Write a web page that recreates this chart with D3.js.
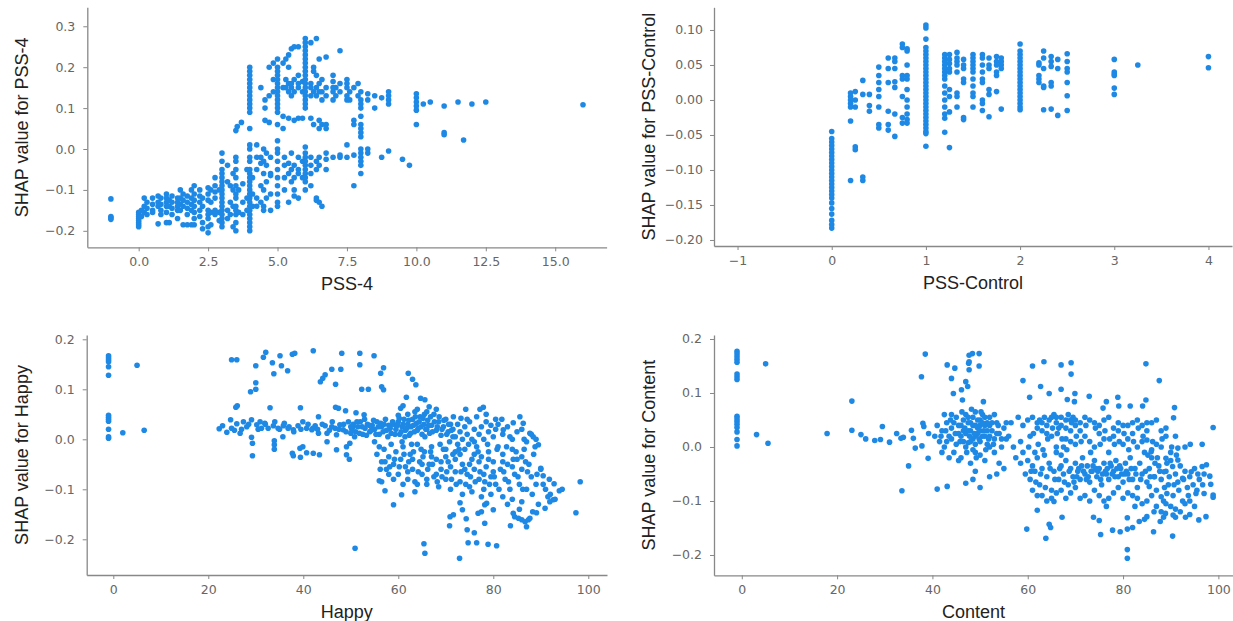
<!DOCTYPE html>
<html>
<head>
<meta charset="utf-8">
<script src="https://cdn.jsdelivr.net/npm/d3@7"></script>
<style>
  html, body { margin: 0; padding: 0; background: #fff; }
  svg { display: block; }
</style>
</head>
<body>
<svg id="chart" width="1233" height="621"></svg>
<script>
// ---------------- DATA ----------------
const pss4XTicks = [0, 2.5, 5, 7.5, 10, 12.5, 15];
const pss4YTicks = [-0.2, -0.1, 0, 0.1, 0.2, 0.3];
const pssControlXTicks = [-1, 0, 1, 2, 3, 4];
const pssControlYTicks = [-0.2, -0.15, -0.1, -0.05, 0, 0.05, 0.1];
const happyXTicks = [0, 20, 40, 60, 80, 100];
const happyYTicks = [-0.2, -0.1, 0, 0.1, 0.2];
const contentXTicks = [0, 20, 40, 60, 80, 100];
const contentYTicks = [-0.2, -0.1, 0, 0.1, 0.2];

const pss4Points = [
[-1,-0.122],[-1,-0.165],[-1,-0.168],[-1,-0.172],
[0,-0.155],[0,-0.16],[0,-0.165],[0,-0.17],[0,-0.175],[0,-0.18],[0,-0.185],[0,-0.19],
[0.1,-0.15],[0.1,-0.165],[0.2,-0.12],[0.2,-0.14],[0.2,-0.155],[0.3,-0.13],[0.3,-0.145],[0.3,-0.16],
[0.5,-0.12],[0.5,-0.135],[0.5,-0.15],[0.5,-0.155],[0.7,-0.115],[0.7,-0.13],[0.7,-0.14],[0.7,-0.183],
[0.8,-0.12],[0.8,-0.135],[0.8,-0.15],[0.8,-0.16],
[1,-0.11],[1,-0.12],[1,-0.13],[1,-0.14],[1,-0.155],[1,-0.18],
[1.1,-0.125],[1.1,-0.14],[1.1,-0.18],[1.2,-0.115],[1.2,-0.13],[1.2,-0.145],[1.2,-0.16],
[1.4,-0.12],[1.4,-0.13],[1.4,-0.14],[1.4,-0.15],[1.4,-0.17],
[1.5,-0.1],[1.5,-0.12],[1.5,-0.135],[1.5,-0.15],
[1.6,-0.11],[1.6,-0.125],[1.6,-0.14],[1.6,-0.185],
[1.75,-0.115],[1.75,-0.13],[1.75,-0.145],[1.75,-0.16],[1.75,-0.185],
[1.9,-0.1],[1.9,-0.12],[1.9,-0.135],[1.9,-0.15],[1.9,-0.185],
[2,-0.09],[2,-0.11],[2,-0.125],[2,-0.14],[2,-0.155],[2,-0.17],[2,-0.185],
[2.2,-0.1],[2.2,-0.115],[2.2,-0.13],[2.2,-0.15],[2.2,-0.165],
[2.3,-0.12],[2.3,-0.14],[2.3,-0.18],[2.3,-0.195],
[2.5,-0.095],[2.5,-0.11],[2.5,-0.125],[2.5,-0.15],[2.5,-0.16],[2.5,-0.17],[2.5,-0.19],[2.5,-0.205],
[2.6,-0.1],[2.6,-0.13],[2.6,-0.155],[2.6,-0.185],
[2.75,-0.07],[2.75,-0.09],[2.75,-0.105],[2.75,-0.12],[2.75,-0.15],[2.75,-0.16],
[2.9,-0.1],[2.9,-0.155],[2.9,-0.175],
[3,-0.01],[3,-0.03],[3,-0.05],[3,-0.06],[3,-0.07],[3,-0.08],[3,-0.09],[3,-0.1],[3,-0.11],[3,-0.12],[3,-0.13],[3,-0.14],[3,-0.15],[3,-0.16],[3,-0.17],[3,-0.18],[3,-0.19],
[3.2,-0.04],[3.2,-0.08],[3.2,-0.15],[3.2,-0.17],[3.3,-0.09],[3.3,-0.13],[3.3,-0.16],
[3.4,-0.06],[3.4,-0.1],[3.4,-0.14],[3.4,-0.19],
[3.5,-0.02],[3.5,-0.03],[3.5,-0.05],[3.5,-0.07],[3.5,-0.09],[3.5,-0.11],[3.5,-0.12],[3.5,-0.14],[3.5,-0.15],[3.5,-0.16],[3.5,-0.18],[3.5,-0.2],
[3.6,-0.1],[3.6,-0.155],[3.75,-0.085],[3.75,-0.13],[3.75,-0.16],[3.9,-0.05],[3.9,-0.12],[3.9,-0.15],
[4,0.01],[4,0],[4,-0.02],[4,-0.03],[4,-0.05],[4,-0.06],[4,-0.07],[4,-0.08],[4,-0.09],[4,-0.1],[4,-0.11],[4,-0.12],[4,-0.13],[4,-0.14],[4,-0.15],[4,-0.16],[4,-0.17],[4,-0.18],[4,-0.19],[4,-0.2],
[4.1,-0.07],[4.1,-0.11],[4.1,-0.14],
[4.25,0.01],[4.25,-0.02],[4.25,-0.05],[4.25,-0.12],[4.25,-0.14],
[4.4,-0.02],[4.4,-0.035],[4.4,-0.09],[4.4,-0.13],
[4.5,0],[4.5,-0.03],[4.5,-0.06],[4.5,-0.1],[4.5,-0.14],[4.5,-0.15],
[4.6,-0.01],[4.6,-0.04],[4.6,-0.08],[4.6,-0.12],
[4.75,-0.02],[4.75,-0.06],[4.75,-0.065],[4.75,-0.11],[4.75,-0.15],
[5,0],[5,-0.01],[5,-0.03],[5,-0.05],[5,-0.07],[5,-0.09],[5,-0.11],[5,-0.13],[5,-0.14],
[5.25,-0.02],[5.25,-0.04],[5.25,-0.07],[5.25,-0.1],
[5.4,-0.035],[5.4,-0.06],[5.4,-0.13],
[5.5,-0.01],[5.5,-0.05],[5.5,-0.08],
[5.6,-0.04],[5.6,-0.07],[5.6,-0.1],[5.6,-0.115],
[5.75,-0.02],[5.75,-0.05],[5.75,-0.06],[5.75,-0.12],
[5.9,-0.03],[5.9,-0.07],
[6,0.005],[6,-0.01],[6,-0.02],[6,-0.03],[6,-0.04],[6,-0.05],[6,-0.06],[6,-0.07],[6,-0.08],[6,-0.1],
[6.2,-0.02],[6.2,-0.04],[6.2,-0.06],[6.2,-0.09],
[6.4,-0.03],[6.4,-0.05],[6.4,-0.12],[6.4,-0.125],
[6.5,-0.02],[6.5,-0.04],[6.5,-0.13],[6.6,-0.14],
[6.75,-0.01],[6.75,-0.025],[6.75,-0.05],
[7,-0.02],[7.25,-0.015],[7.25,-0.02],[7.5,0.01],[7.5,-0.02],[7.75,-0.015],[7.75,-0.09],
[8,0],[8,-0.01],[8,-0.02],[8,-0.03],[8,-0.04],[8,-0.06],
[8.25,-0.01],[8.25,0],[8.75,-0.02],[9,-0.005],[9.5,-0.025],[9.75,-0.04],
[3.5,0.045],[3.55,0.055],[3.7,0.065],
[4,0.05],[4,0.09],[4,0.1],[4,0.11],[4,0.12],[4,0.13],[4,0.14],[4,0.15],[4,0.16],[4,0.17],[4,0.18],[4,0.19],[4,0.2],
[4.4,0.15],[4.55,0.07],[4.55,0.1],[4.55,0.12],[4.7,0.2],[4.7,0.13],[4.7,0.065],[4.85,0.21],[4.85,0.17],[4.85,0.14],
[5,0.02],[5,0.06],[5,0.09],[5,0.1],[5,0.11],[5,0.12],[5,0.13],[5,0.14],[5,0.15],[5,0.16],[5,0.17],[5,0.18],[5,0.19],[5,0.2],[5,0.22],
[5.2,0.21],[5.2,0.15],[5.2,0.08],[5.2,0.05],[5.3,0.15],[5.3,0.17],[5.3,0.22],
[5.4,0.14],[5.4,0.16],[5.4,0.2],[5.4,0.23],[5.4,0.075],[5.5,0.15],[5.5,0.16],[5.5,0.245],[5.5,0.13],
[5.6,0.14],[5.6,0.17],[5.6,0.25],[5.6,0.07],[5.75,0.15],[5.75,0.16],[5.75,0.18],[5.75,0.25],[5.75,0.075],
[5.9,0.14],[5.9,0.165],[5.9,0.075],
[6,0.1],[6,0.11],[6,0.12],[6,0.13],[6,0.14],[6,0.15],[6,0.16],[6,0.17],[6,0.18],[6,0.19],[6,0.2],[6,0.21],[6,0.22],[6,0.23],[6,0.24],[6,0.25],[6,0.26],[6,0.27],
[6.2,0.13],[6.2,0.15],[6.2,0.16],[6.2,0.075],[6.2,0.26],[6.3,0.14],[6.3,0.2],[6.3,0.19],[6.3,0.06],
[6.4,0.13],[6.4,0.15],[6.4,0.18],[6.4,0.27],[6.5,0.14],[6.5,0.16],[6.5,0.22],[6.5,0.07],[6.5,0.05],
[6.6,0.12],[6.6,0.14],[6.6,0.17],[6.6,0.06],[6.75,0.13],[6.75,0.15],[6.75,0.225],[6.75,0.06],[6.75,0.05],
[7,0.14],[7,0.15],[7,0.165],[7,0.18],[7,0.12],[7.1,0.13],[7.1,0.15],[7.25,0.24],[7.25,0.14],[7.25,0.16],
[7.5,0.12],[7.5,0.15],[7.5,0.16],[7.5,0.17],[7.5,0.13],[7.6,0.14],[7.6,0.12],[7.75,0.15],[7.75,0.07],[7.75,0.06],
[7.9,0.16],[7.9,0.13],
[8,0.14],[8,0.12],[8,0.11],[8,0.1],[8,0.08],[8,0.06],[8,0.05],[8,0.04],[8,0.03],
[8.25,0.135],[8.25,0.12],[8.5,0.13],[8.5,0.1],[8.75,0.125],
[9,0.14],[9,0.13],[9,0.12],[9,0.11],
[10,0.135],[10,0.125],[10,0.115],[10,0.105],[10,0.095],[10,0.06],
[10.25,0.11],[10.5,0.115],[11,0.105],[11,0.04],[11,0.035],[11.5,0.115],[11.7,0.022],[12,0.11],[12.5,0.115],[16,0.108]
];

const pssControlPoints = [
[0,-0.045],[0,-0.055],[0,-0.06],[0,-0.065],[0,-0.07],[0,-0.075],[0,-0.08],[0,-0.085],[0,-0.09],[0,-0.095],[0,-0.1],[0,-0.105],[0,-0.11],[0,-0.115],[0,-0.12],[0,-0.125],[0,-0.13],[0,-0.135],[0,-0.14],[0,-0.147],[0,-0.155],[0,-0.163],[0,-0.172],[0,-0.178],[0,-0.183],
[0.2,0.01],[0.2,0.005],[0.2,0],[0.2,-0.005],[0.2,-0.01],[0.2,-0.03],[0.2,-0.115],
[0.25,0.012],[0.25,0],[0.25,-0.01],[0.25,-0.067],[0.25,-0.071],
[0.33,0.028],[0.33,0.008],[0.33,-0.11],[0.33,-0.115],
[0.4,0.008],[0.4,-0.008],[0.4,-0.016],
[0.5,0.047],[0.5,0.035],[0.5,0.025],[0.5,0.015],[0.5,0.005],[0.5,-0.01],[0.5,-0.035],[0.5,-0.04],
[0.6,0.06],[0.6,0.045],[0.6,0.025],[0.6,-0.016],[0.6,-0.035],[0.6,-0.043],
[0.67,0.06],[0.67,0.055],[0.67,0.045],[0.67,0.026],[0.67,0.018],[0.67,-0.02],[0.67,-0.052],
[0.75,0.08],[0.75,0.075],[0.75,0.035],[0.75,0.03],[0.75,0.005],[0.75,-0.025],[0.75,-0.033],
[0.8,0.073],[0.8,0.07],[0.8,0.05],[0.8,0.035],[0.8,0.03],[0.8,0.015],[0.8,0],[0.8,-0.01],[0.8,-0.02],[0.8,-0.028],[0.8,-0.033],
[1,0.107],[1,0.103],[1,0.087],[1,0.075],[1,0.07],[1,0.065],[1,0.06],[1,0.055],[1,0.05],[1,0.045],[1,0.04],[1,0.035],[1,0.03],[1,0.025],[1,0.02],[1,0.015],[1,0.01],[1,0.005],[1,0],[1,-0.005],[1,-0.01],[1,-0.015],[1,-0.02],[1,-0.025],[1,-0.03],[1,-0.035],[1,-0.04],[1,-0.045],[1,-0.048],[1,-0.066],
[1.2,0.065],[1.2,0.06],[1.2,0.055],[1.2,0.05],[1.2,0.045],[1.2,0.04],[1.2,0.035],[1.2,0.03],[1.2,0.02],[1.2,0.01],[1.2,0],[1.2,-0.01],[1.2,-0.02],[1.2,-0.026],[1.2,-0.046],
[1.25,0.065],[1.25,0.058],[1.25,0.052],[1.25,0.045],[1.25,0.04],[1.25,0.015],[1.25,0.005],[1.25,-0.017],[1.25,-0.068],
[1.33,0.068],[1.33,0.06],[1.33,0.055],[1.33,0.05],[1.33,0.04],[1.33,0.01],[1.33,0.005],[1.33,-0.01],
[1.4,0.058],[1.4,0.05],[1.4,0.045],[1.4,0.03],[1.4,0.025],[1.4,-0.025],[1.4,-0.028],
[1.5,0.065],[1.5,0.06],[1.5,0.055],[1.5,0.05],[1.5,0.045],[1.5,0.04],[1.5,0.03],[1.5,0.02],[1.5,0.01],[1.5,0.005],[1.5,-0.01],
[1.6,0.065],[1.6,0.06],[1.6,0.05],[1.6,0.04],[1.6,0.03],[1.6,0.025],[1.6,0],[1.6,-0.005],[1.6,-0.015],
[1.67,0.06],[1.67,0.05],[1.67,0.045],[1.67,0.015],[1.67,0.008],[1.67,-0.024],
[1.75,0.062],[1.75,0.055],[1.75,0.05],[1.75,0.04],[1.75,0.035],[1.75,0.012],
[1.8,0.06],[1.8,0.055],[1.8,0.05],[1.8,0.045],[1.8,-0.013],
[2,0.08],[2,0.07],[2,0.065],[2,0.06],[2,0.055],[2,0.05],[2,0.045],[2,0.04],[2,0.035],[2,0.03],[2,0.025],[2,0.02],[2,0.015],[2,0.01],[2,0.005],[2,0],[2,-0.005],[2,-0.01],[2,-0.014],
[2.2,0.053],[2.2,0.05],[2.2,0.035],[2.2,0.03],[2.2,0.025],[2.25,-0.014],
[2.25,0.07],[2.25,0.06],[2.25,0.045],[2.25,0.02],[2.25,0.018],
[2.33,0.062],[2.33,0.055],[2.33,0.048],[2.33,0.025],[2.33,0.02],[2.33,-0.013],
[2.4,0.058],[2.4,0.045],[2.4,-0.022],
[2.5,0.066],[2.5,0.055],[2.5,0.045],[2.5,0.04],[2.5,0.025],[2.5,0.006],[2.5,-0.015],
[3,0.058],[3,0.04],[3,0.037],[3,0.035],[3,0.017],[3,0.008],
[3.25,0.05],[4,0.062],[4,0.046]
];

const happyPoints = [
[-1,0.167],[-1,0.163],[-1,0.159],[-1,0.155],[-1,0.145],[-1,0.128],[-1,0.048],[-1,0.044],[-1,0.04],[-1,0.036],[-1,0.02],[-1,0.005],[-1,0.002],
[2,0.013],[5,0.148],[6.5,0.018],
[24.9,0.159],[26,0.159],[25.8,0.064],[26.1,0.067],[28.9,0.095],[30,0.1],[30,0.113],[30,0.147],[31.6,0.164],[32.1,0.174],[33,0.063],[33.5,0.153],[33.8,0.131],[35.1,0.167],[35.4,0.147],[36.7,0.137],[37.7,0.17],[38.2,0.172],[39.4,0.063],[42.1,0.177],[43.2,0.045],[43.6,0.115],[44.1,0.122],[44.6,0.129],[46,0.14],[46.8,0.11],[46.8,0.064],[47.4,0.062],[47.9,0.14],[48.1,0.172],[48.9,0.057],
[51.9,0.172],[54.9,0.167],[51.9,0.149],[52.3,0.1],[53.7,0.1],[56.3,0.132],[56.9,0.143],[56.5,0.105],[56.9,0.099],[62.1,0.132],[63,0.12],[63.7,0.109],[61.7,0.084],[64.7,0.082],[65.6,0.079],[61,0.067],[51.1,0.053],[52.8,0.049],[60.5,0.062],
[29.1,0.004],[29.3,-0.008],[29.3,-0.033],[33.9,-0.003],[33.9,-0.011],[33.9,-0.02],[35.7,0.005],[37.7,-0.028],[37.9,-0.033],[39.3,-0.018],[39.4,-0.036],[39.9,-0.015],[40.7,-0.027],[42.1,-0.028],[43.4,-0.031],[45,-0.005],[47,-0.021],[49.1,-0.015],[49.1,-0.031],[49.7,-0.04],[49.8,-0.008],
[22.3,0.021],[23,0.027],[23.9,0.014],[24.7,0.039],[24.9,0.022],[26,0.031],[26.7,0.012],[27.4,0.035],[28.1,0.025],[29.1,0.039],[30.2,0.029],[30.9,0.035],[31.2,0.022],[31.9,0.032],[32.6,0.022],[33.7,0.027],[34.7,0.022],[35.8,0.027],[36.8,0.022],[37.9,0.019],[38.9,0.027],[39.9,0.035],[40.7,0.022],[41.8,0.019],[42.5,0.027],[43.2,0.012],[44.6,0.027],[45,0.012],[46.1,0.035],[46.7,0.022],[47,0.009],[47.7,0.029],[48.4,0.019],[49.5,0.035],[50,0.012],[50.5,0.025],
[25.5,0.018],[27,0.02],[28.5,0.03],[30.5,0.02],[32,0.03],[34,0.035],[35,0.02],[36,0.032],[37,0.025],[38,0.015],[39.5,0.02],[41,0.03],[42,0.022],[43,0.02],[44,0.03],[45.5,0.018],[46,0.025],[47.5,0.02],[48.5,0.03],[49,0.015],[50,0.025],
[50.5,0.03],[51,0.015],[51.5,0.025],[52,0.035],[52.5,0.01],[53,0.022],[53.5,0.03],[54,0.015],[54.5,0.028],[55,0.02],[55.5,0.035],[56,0.01],[56.5,0.025],[57,0.03],[57.5,0.018],[58,0.028],[58.5,0.012],[59,0.03],[59.5,0.02],[60,0.035],[60.3,0.01],[60.8,0.025],[61.2,0.04],[61.5,0.018],[62,0.03],[62.3,0.008],[62.7,0.025],[63,0.04],[63.4,0.015],[63.8,0.032],[64.2,0.022],[64.6,0.045],[65,0.01],[65.4,0.03],[65.8,0.02],[66.2,0.038],[66.6,0.012],[67,0.028],[67.5,0.05],[68,0.018],[68.5,0.035],[69,0.008],[69.5,0.025],[70,0.04],[70.5,0.015],[71,0.03],[66,0.055],[64,0.06],[62,0.05],[60,0.048],
[50.2,0.02],[50.8,0.005],[51.3,0.035],[51.8,0.012],[52.4,0.025],[52.9,0.04],[53.3,0.008],[53.9,0.028],[54.3,0.018],[54.8,0.038],[55.3,0.01],[55.8,0.025],[56.3,0.032],[56.8,0.015],[57.3,0.04],[57.8,0.005],[58.3,0.022],[58.8,0.035],[59.3,0.01],[59.8,0.028],[60.2,0.042],[60.6,0.015],[61,0.03],[61.4,0.005],[61.8,0.022],[62.2,0.038],[62.6,0.012],[63.2,0.028],[63.6,0.045],[64,0.018],[64.4,0.035],[64.8,0.025],[65.2,0.042],[65.6,0.005],[66,0.02],[66.4,0.028],[66.8,0.045],[67.2,0.015],[67.6,0.035],[68.2,0.025],[68.6,0.045],[69.2,0.02],[69.6,0.038],[70.2,0.01],[70.6,0.03],[71.2,0.018],[66.5,0.065],[68,0.06],[65.5,0.05],[63.5,0.055],
[55,-0.005],[55.5,-0.03],[56,-0.015],[56.5,-0.045],[57,-0.02],[57.5,-0.06],[58,-0.035],[58.5,-0.01],[59,-0.05],[59.5,-0.025],[60,-0.07],[60.5,-0.04],[61,-0.015],[61.5,-0.055],[62,-0.08],[62.5,-0.03],[63,-0.06],[63.5,-0.085],[64,-0.01],[64.5,-0.045],[65,-0.07],[65.5,-0.025],[66,-0.09],[66.5,-0.05],[67,-0.015],[67.5,-0.075],[68,-0.04],[68.5,-0.095],[69,-0.06],[69.5,-0.02],[70,-0.08],[70.5,-0.045],[71,-0.1],[71.5,-0.03],[72,-0.065],[72.5,-0.01],[73,-0.085],[73.5,-0.05],[74,-0.02],[74.5,-0.07],[75,-0.095],[75.5,-0.04],[76,-0.06],[76.5,-0.015],[77,-0.08],[77.5,-0.035],[78,-0.1],[78.5,-0.055],[79,-0.025],[79.5,-0.075],[80,-0.045],[80.5,-0.09],[81,-0.015],[81.5,-0.06],[82,-0.03],[82.5,-0.08],[83,-0.05],[83.5,-0.1],[84,-0.02],[84.5,-0.07],[85,-0.04],[85.5,-0.09],[86,-0.06],[86.5,-0.02],[87,-0.1],[87.5,-0.05],[88,-0.075],[88.5,-0.03],[89,-0.09],[90,-0.06],[91,-0.1],[92,-0.11],
[63,-0.04],[65,-0.05],[67,-0.035],[69,-0.045],[71,-0.055],[73,-0.03],[75,-0.05],[77,-0.045],[79,-0.04],[64,-0.09],[66,-0.08],[68,-0.07],[70,-0.02],[72,-0.04],[74,-0.06],[76,-0.03],[78,-0.07],[80,-0.065],[82,-0.045],[84,-0.055],[86,-0.035],[61,-0.09],[59,-0.08],[62,-0.065],[58,-0.07],
[56.2,-0.06],[57.2,-0.045],[58.2,-0.055],[59.2,-0.04],[60.2,-0.055],[61.2,-0.03],[62.2,-0.045],[63.2,-0.025],[64.2,-0.065],[65.2,-0.035],[66.2,-0.06],[67.2,-0.05],[68.2,-0.085],[69.2,-0.075],[70.2,-0.065],[71.2,-0.08],[72.2,-0.09],[73.2,-0.065],[74.2,-0.09],[75.2,-0.075],[76.2,-0.085],[77.2,-0.065],[78.2,-0.085],[79.2,-0.09],[80.2,-0.075],[81.2,-0.1],[82.2,-0.065],[83.2,-0.085],[84.2,-0.04],[85.2,-0.075],[86.2,-0.1],[87.2,-0.065],[88.2,-0.11],[89.2,-0.07],
[60.8,-0.005],[62.8,-0.01],[64.8,-0.02],[66.8,-0.025],[68.8,-0.01],[70.8,-0.005],[72.8,-0.02],[74.8,-0.01],[76.8,-0.025],[78.8,-0.01],[80.8,-0.02],[82.8,-0.015],[84.8,-0.025],[86.8,-0.045],[88.8,-0.015],
[73.5,-0.11],[75.5,-0.105],[77.5,-0.115],[79.5,-0.11],[82,-0.115],[84,-0.12],[86,-0.125],[90.5,-0.09],[91.5,-0.115],[93,-0.12],[94.5,-0.1],[85.5,-0.14],[89.5,-0.13],[83,-0.13],
[71.5,0.005],[74.5,0.04],[78.5,0.05],[80.5,0.04],[83.5,0.005],[86.5,0],[76,-0.005],[72,-0.025],[70,-0.035],
[71.5,0.02],[72,0.005],[72.5,0.03],[73,0.015],[73.5,0],[74,0.025],[74.5,0.01],[75,0.035],[75.5,0],[76,0.02],[76.5,0.045],[77,0.01],[77.5,0.025],[78,0],[78.5,0.035],[79,0.015],[79.5,0.028],[80,0.005],[80.5,0.02],[81,0.03],[82,0.01],[83,0.025],[84,0],[85,0.015],[86,0.02],[87,-0.005],[88,0.01],[89,0],
[50.9,-0.218],[65.4,-0.209],[65.6,-0.228],[72.9,-0.238],[74.7,-0.207],[76.5,-0.207],[78.9,-0.21],[80.7,-0.213],[70.8,-0.173],[70.9,-0.155],[71.6,-0.151],[73,-0.127],[73.5,-0.141],[74.3,-0.159],[74.5,-0.181],[76,-0.187],[76.8,-0.148],[77.5,-0.145],[78.2,-0.131],[78.2,-0.168],[78.6,-0.128],[80,-0.141],[83.6,-0.173],[84.2,-0.148],[84.5,-0.155],[85.3,-0.158],[86,-0.161],[86.7,-0.165],[87,-0.175],[87.4,-0.161],[87.7,-0.158],[88.3,-0.145],[89.1,-0.147],[90.9,-0.138],[91.9,-0.125],[92.6,-0.121],[93.9,-0.103],[92.8,-0.089],[91.8,-0.08],[90.5,-0.073],[90,-0.058],[89.5,-0.011],[88.4,0.005],[87.7,0.012],[86.3,0.032],[85.6,0.045],[84.2,0.033],[81.8,0.04],[82.1,0.019],[77.9,0.064],[77.2,0.06],[74.2,0.06],[73.2,0.042],[71.6,0.045],[98.3,-0.085],[97.4,-0.147],[59,-0.131],[60.7,-0.111],[63.5,-0.105],[57.2,-0.103],[56.5,-0.085],[56,-0.083]
];

const contentPoints = [
[-1,0.177],[-1,0.172],[-1,0.167],[-1,0.162],[-1,0.157],[-1,0.135],[-1,0.13],[-1,0.125],[-1,0.057],[-1,0.052],[-1,0.047],[-1,0.042],[-1,0.036],[-1,0.028],[-1,0.014],[-1,0.002],[5,0.154],[3.1,0.023],[5.5,0.007],
[17.9,0.025],[23.1,0.085],[23.1,0.031],[25,0.023],[26,0.015],[27.9,0.012],[29.1,0.014],[29.5,0.038],[31,0.009],[32.5,0.025],[33.4,0.016],[33.9,0.018],[33.6,-0.081],[35,-0.035],[35.6,0.031],[36,0.016],[36.4,-0.002],[37.7,0.13],[38.5,0.172],[38,0.044],[38.2,0.038],[37.8,0.002],[39.1,-0.021],[39.2,0.025],[41,-0.078],[43.1,0.152],[43.1,-0.073],[44.7,0.146],[44,0.127],[44.4,0.099],[46.1,0.106],[46.3,0.087],[47,-0.067],[47.6,0.155],[47.7,0.17],[47,0.121],[42.5,0.06],
[48.4,0.173],[49.8,0.173],[49.8,0.15],[47.7,0.158],[47.7,0.143],[47.4,0.112],[50.7,0.084],
[40.5,0.02],[41,0.04],[41.5,0.01],[42,0.03],[42.5,0],[43,0.045],[43.5,0.02],[44,0.035],[44.5,-0.01],[45,0.055],[45.5,0.025],[46,0.04],[46.5,0.01],[47,0.06],[47.5,0.03],[48,0.045],[48.5,0.015],[49,0.065],[49.5,0.035],[50,0.05],[50.5,0.02],[51,0.04],[51.5,0.005],[52,0.055],[52.5,0.03],[53,0.015],[53.5,0.045],[54,0.025],[54.5,0],[55,0.035],[55.5,0.015],[45,0.005],[46,-0.02],[47,0],[48,-0.03],[49,0.005],[50,-0.015],[51,-0.025],[52,0],[53,-0.01],[54,-0.03],[46.5,0.05],[47.5,0.045],[48.5,0.055],[49.5,0.025],[50.5,0.06],[48,0.03],[49,0.04],[50,0.03],[51,0.02],[44,0.015],[43,0.01],[52,0.04],[53,0.06],[46,0.02],[47,0.025],[48,0.01],[49,0.02],[50,0.01],[51,0.055],[52,0.02],[49,-0.01],[50,0.04],[51.5,0.045],[48.5,-0.005],[47.5,0.008],[53.5,-0.05],[52,-0.055],[49,-0.045],[50,-0.075],[48.5,-0.06],[55,-0.04],[56,0.02],[56.5,0.045],[57,0],[57.5,-0.02],[58,0.055],[58.5,0.01],
[44.5,0.045],[45.5,0.04],[46.5,0.03],[47.5,0.055],[48.5,0.04],[49.5,0.05],[50.5,0.045],[51.5,0.03],[52.5,0.045],[53.5,0.025],[45.8,0.01],[46.8,0.035],[47.8,0.02],[48.8,0.025],[49.8,0.015],[50.8,0.03],[51.8,0.015],[52.8,0.005],[53.8,0.04],[44.8,0.025],[43.8,0.05],[42.8,0.03],[41.8,0.02],[46.2,0.065],[48.2,0.07],[50.2,0.065],[47.2,-0.01],[49.2,-0.02],[51.2,-0.005],[45.5,-0.025],[54.5,0.015],[55.5,0.045],[42,-0.01],[43.5,-0.02],[44,0.06],
[59,0.04],[60,0.05],[60.5,0.02],[61,0.055],[61.5,-0.01],[62,0.045],[62.5,0.05],[63,0.03],[63.5,0.055],[64,0.04],[64.5,0.05],[65,0.02],[65.5,0.06],[66,0.045],[66.5,0.035],[67,0.055],[67.5,0],[68,0.05],[68.5,0.06],[69,0.03],[69.5,0.055],[70,0.04],
[58.5,-0.03],[59,-0.01],[59.5,-0.05],[60,-0.025],[60.5,-0.06],[61,-0.035],[61.5,-0.045],[62,-0.02],[62.5,-0.07],[63,-0.04],[63.5,-0.015],[64,-0.055],[64.5,-0.03],[65,-0.08],[65.5,-0.045],[66,-0.01],[66.5,-0.06],[67,-0.035],[67.5,-0.05],[68,-0.025],[68.5,-0.07],[69,-0.04],[69.5,-0.055],[70,-0.03],[70.5,-0.045],[71,-0.06],[71.5,-0.02],[72,-0.05],[72.5,-0.035],[73,-0.065],[73.5,-0.045],[74,-0.025],[74.5,-0.055],[75,-0.04],[75.5,-0.07],[76,-0.03],[76.5,-0.05],[77,-0.06],[77.5,-0.035],[78,-0.045],[78.5,-0.025],[79,-0.055],[79.5,-0.04],[80,-0.065],[80.5,-0.03],[81,-0.05],[81.5,-0.02],[82,-0.06],[82.5,-0.04],[83,-0.075],[83.5,-0.03],[84,-0.05],[84.5,-0.01],[85,-0.065],[85.5,-0.04],[86,-0.02],[86.5,-0.055],[87,-0.08],[87.5,-0.035],[88,-0.06],[88.5,-0.1],[89,-0.045],[89.5,-0.07],[90,-0.025],[90.5,-0.09],[91,-0.05],[91.5,-0.065],[92,-0.035],[92.5,-0.1],[93,-0.045],[93.5,-0.075],[94,-0.055],[95,-0.04],[95.5,-0.08],[96,-0.06],[97,-0.05],
[60.2,0],[61.2,0.025],[62.2,0.005],[63.2,-0.005],[64.2,0.015],[65.2,0.035],[66.2,0.025],[67.2,0.015],[68.2,-0.005],[69.2,0.045],[70.2,0.02],[71.2,0.01],[72.2,0.04],[73.2,-0.01],[74.2,0.035],[75.2,0.005],[76.2,0.03],[77.2,0.015],[78.2,0.005],[79.2,0.01],[80.2,0.025],[81.2,-0.005],[82.2,0.01],[83.2,0.035],[84.2,0.02],[85.2,-0.015],[86.2,0.01],[87.2,-0.02],[88.2,0.015],[89.2,-0.03],[90.2,0],[91.2,-0.015],
[60.7,-0.045],[61.7,-0.065],[62.7,-0.05],[63.7,-0.075],[64.7,-0.04],[65.7,-0.06],[66.7,-0.04],[67.7,-0.065],[68.7,-0.045],[69.7,-0.065],[70.7,-0.04],[71.7,-0.045],[72.7,-0.055],[73.7,-0.035],[74.7,-0.045],[75.7,-0.05],[76.7,-0.04],[77.7,-0.05],[78.7,-0.04],[79.7,-0.05],[80.7,-0.045],[81.7,-0.04],[82.7,-0.05],[83.7,-0.06],[84.7,-0.045],[85.7,-0.055],[86.7,-0.03],[87.7,-0.045],[88.7,-0.075],[89.7,-0.055],[90.7,-0.07],[91.7,-0.08],[92.7,-0.06],[93.7,-0.09],[94.7,-0.07],[95.7,-0.05],[96.7,-0.07],
[70.3,-0.055],[71.3,-0.035],[72.3,-0.06],[73.3,-0.045],[74.3,-0.04],[75.3,-0.06],[76.3,-0.045],[77.3,-0.03],[78.3,-0.055],[79.3,-0.035],[80.3,-0.05],[81.3,-0.06],
[63,0.045],[65,0.055],[67,0.04],[69,0.05],[62,0.035],[64,0.025],[66,0.055],[68,0.035],[70,0.05],[72,0.055],[74,0.045],[76,0.05],[78,0.035],[80,0.04],[82,0.045],[84,0.04],[86,0.045],[88,0.03],
[66,0],[68,0.015],[70,0.005],[72,0.02],[74,0],[76,0.015],[78,0.02],[80,0.005],[82,0.025],[84,0.01],[86,-0.005],[88,0],[90,-0.01],[67,-0.015],[69,0.01],[71,0.03],[73,0.01],[75,0.025],[77,-0.01],[79,0.03],[81,0.015],[83,0],[85,0.03],[87,0.005],[89,0.02],[71,0.045],[73,0.05],[75,0.04],[77,0.055],[79,0.045],[81,0.04],[83,0.05],[85,0.045],[87,0.05],[89,0.035],[91,0.02],[93,0],
[62,-0.09],[64,-0.1],[66,-0.085],[68,-0.095],[70,-0.075],[72,-0.09],[74,-0.08],[76,-0.1],[78,-0.085],[80,-0.095],[82,-0.09],[84,-0.105],[86,-0.09],[88,-0.12],[90,-0.11],[92,-0.12],[94,-0.1],
[61,-0.08],[63,-0.09],[65,-0.095],[67,-0.08],[69,-0.085],[71,-0.095],[73,-0.1],[75,-0.09],[77,-0.095],[79,-0.075],[81,-0.085],[83,-0.095],[85,-0.1],[87,-0.11],[89,-0.105],[91,-0.115],[93,-0.105],[95,-0.11],[76.5,-0.11],[82.5,-0.11],[86.5,-0.12],[88.5,-0.13],[91,-0.13],[94,-0.125],
[61,0.15],[63.4,0.158],[67,0.152],[69.1,0.156],[69.1,0.135],[59,0.123],[60.4,0.092],[62.7,0.112],[64.5,0.099],[67,0.107],[68.3,0.088],[69.8,0.084],[69.9,0.099],[72.9,0.094],[75.8,0.072],[76.5,0.084],[78.9,0.092],[79.1,0.076],[81.5,0.076],[84.1,0.076],[84.8,0.087],[84.8,0.154],[87.6,0.123],[90.8,0.073],[90.6,0.054],[98.9,0.036],[96.6,0.005],[94.1,0.005],
[59.8,-0.152],[62,-0.117],[63.8,-0.169],[64.5,-0.143],[64.8,-0.149],[67.2,-0.13],[65.5,-0.101],[73.8,-0.13],[75,-0.136],[75.3,-0.162],[77.8,-0.154],[79.4,-0.157],[80.9,-0.19],[80.9,-0.206],[80.9,-0.152],[82,-0.149],[80.9,-0.131],[83.4,-0.138],[84.5,-0.134],[85,-0.129],[86.4,-0.157],[87.8,-0.138],[90.4,-0.165],[88.9,-0.123],[90.5,-0.126],[93.1,-0.13],[95.9,-0.135],[97.4,-0.129],[95.3,-0.086],[98.9,-0.089],[98.9,-0.093],[97,-0.086],[98.4,-0.069],[97.5,-0.033],[98.2,-0.054],[96.6,-0.036],[94.3,-0.046],[92.5,-0.058],[91.5,-0.002],[91.5,-0.024],[90.4,-0.036],[89,-0.021],[88.6,-0.046],[89.2,-0.086],[88,-0.092],[85.5,-0.073],[86.6,-0.055],[85.9,-0.009],[85,0.013]
];

// ---------------- LAYOUT ----------------
const panels = [
  { points: pss4Points, box: {l: 87.3, r: 606.6, t: 7.3, b: 247.3}, xDomain: [-1.85, 16.85], yDomain: [-0.2403, 0.3464],
    xTicks: pss4XTicks, yTicks: pss4YTicks, xFmt: ".1f", yFmt: ".1f", xLabel: "PSS-4", yLabel: "SHAP value for PSS-4", yPad: 8 },
  { points: pssControlPoints, box: {l: 714, r: 1232, t: 7.3, b: 246}, xDomain: [-1.25, 4.25], yDomain: [-0.2086, 0.1324],
    xTicks: pssControlXTicks, yTicks: pssControlYTicks, xFmt: "d", yFmt: ".2f", xLabel: "PSS-Control", yLabel: "SHAP value for PSS-Control", yPad: 7 },
  { points: happyPoints, box: {l: 86.7, r: 607, t: 335, b: 575}, xDomain: [-5.6, 103.94], yDomain: [-0.2714, 0.2086],
    xTicks: happyXTicks, yTicks: happyYTicks, xFmt: "d", yFmt: ".1f", xLabel: "Happy", yLabel: "SHAP value for Happy", yPad: 8 },
  { points: contentPoints, box: {l: 714, r: 1233, t: 335, b: 575.3}, xDomain: [-5.83, 103.07], yDomain: [-0.2376, 0.2074],
    xTicks: contentXTicks, yTicks: contentYTicks, xFmt: "d", yFmt: ".1f", xLabel: "Content", yLabel: "SHAP value for Content", yPad: 8 }
];

const svg = d3.select("#chart");
const dotColor = "#1E88E5";
const axisColor = "#888";
const tickTextColor = "#666";

panels.forEach(p => {
  const x = d3.scaleLinear().domain(p.xDomain).range([p.box.l, p.box.r]);
  const y = d3.scaleLinear().domain(p.yDomain).range([p.box.b, p.box.t]);
  const g = svg.append("g");

  g.append("g").selectAll("circle").data(p.points).join("circle")
    .attr("cx", d => x(d[0])).attr("cy", d => y(d[1]))
    .attr("r", 2.8).attr("fill", dotColor);

  const xAxis = g.append("g").attr("transform", `translate(0,${p.box.b})`)
    .call(d3.axisBottom(x).tickValues(p.xTicks).tickFormat(d3.format(p.xFmt)).tickSize(4).tickPadding(6).tickSizeOuter(0));
  const yAxis = g.append("g").attr("transform", `translate(${p.box.l},0)`)
    .call(d3.axisLeft(y).tickValues(p.yTicks).tickFormat(d3.format(p.yFmt)).tickSize(4).tickPadding(p.yPad).tickSizeOuter(0));
  [xAxis, yAxis].forEach(a => {
    a.select(".domain").attr("stroke", axisColor).attr("stroke-width", 1.3);
    a.selectAll(".tick line").attr("stroke", axisColor).attr("stroke-width", 1);
    a.selectAll(".tick text").attr("fill", tickTextColor)
      .style("font-family", "'DejaVu Sans', sans-serif").style("font-size", "12.5px");
  });

  g.append("text")
    .attr("x", (p.box.l + p.box.r) / 2).attr("y", p.box.b + 43)
    .attr("text-anchor", "middle")
    .style("font-family", "'Liberation Sans', Arial, sans-serif").style("font-size", "18px").attr("fill", "#222")
    .text(p.xLabel);

  g.append("text")
    .attr("transform", `translate(${p.box.l - 59},${(p.box.t + p.box.b) / 2}) rotate(-90)`)
    .attr("text-anchor", "middle")
    .style("font-family", "'Liberation Sans', Arial, sans-serif").style("font-size", "18px").attr("fill", "#222")
    .text(p.yLabel);
});
</script>
</body>
</html>
